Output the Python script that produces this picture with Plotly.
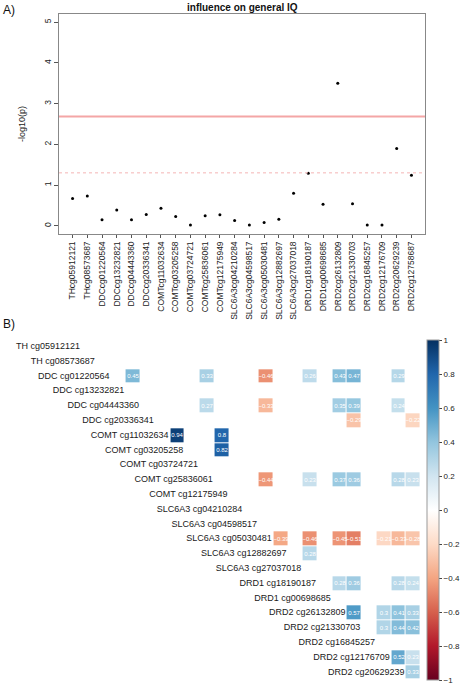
import math
import plotly.graph_objects as go

# ---------------- data ----------------
probe_labels = ["THcg05912121", "THcg08573687", "DDCcg01220564", "DDCcg13232821",
                "DDCcg04443360", "DDCcg20336341", "COMTcg11032634", "COMTcg03205258",
                "COMTcg03724721", "COMTcg25836061", "COMTcg12175949", "SLC6A3cg04210284",
                "SLC6A3cg04598517", "SLC6A3cg05030481", "SLC6A3cg12882697", "SLC6A3cg27037018",
                "DRD1cg18190187", "DRD1cg00698685", "DRD2cg26132809", "DRD2cg21330703",
                "DRD2cg16845257", "DRD2cg12176709", "DRD2cg20629239", "DRD2cg12758687"]
neg_log10_p = [0.67, 0.73, 0.15, 0.39, 0.15, 0.28, 0.43, 0.23, 0.02, 0.25, 0.27, 0.13,
               0.02, 0.08, 0.16, 0.80, 1.29, 0.53, 3.50, 0.54, 0.02, 0.02, 1.90, 1.24]
nominal_threshold = -math.log10(0.05)
bonferroni_threshold = -math.log10(0.05 / 24)

row_labels = ["TH cg05912121", "TH cg08573687", "DDC cg01220564", "DDC cg13232821",
              "DDC cg04443360", "DDC cg20336341", "COMT cg11032634", "COMT cg03205258",
              "COMT cg03724721", "COMT cg25836061", "COMT cg12175949", "SLC6A3 cg04210284",
              "SLC6A3 cg04598517", "SLC6A3 cg05030481", "SLC6A3 cg12882697", "SLC6A3 cg27037018",
              "DRD1 cg18190187", "DRD1 cg00698685", "DRD2 cg26132809", "DRD2 cg21330703",
              "DRD2 cg16845257", "DRD2 cg12176709", "DRD2 cg20629239"]
# significant correlations: (row index, column probe index, r)
corr_rows = [2, 2, 2, 2, 2, 2, 2,
             4, 4, 4, 4, 4,
             5, 5,
             6, 6,
             7,
             9, 9, 9, 9, 9, 9,
             13, 13, 13, 13, 13, 13, 13,
             14,
             16, 16, 16, 16,
             18, 18, 18, 18,
             19, 19, 19,
             21, 21,
             22]
corr_cols = [4, 9, 13, 16, 18, 19, 22,
             9, 13, 18, 19, 22,
             19, 23,
             7, 10,
             10,
             13, 16, 18, 19, 22, 23,
             14, 16, 18, 19, 21, 22, 23,
             16,
             18, 19, 22, 23,
             19, 21, 22, 23,
             21, 22, 23,
             22, 23,
             23]
corr_vals = [0.45, 0.33, -0.46, 0.26, 0.43, 0.47, 0.29,
             0.27, -0.33, 0.35, 0.39, 0.24,
             -0.29, -0.22,
             0.94, 0.80,
             0.82,
             -0.44, 0.23, 0.37, 0.36, 0.28, 0.23,
             -0.39, -0.46, -0.45, -0.51, -0.21, -0.33, -0.28,
             0.28,
             0.28, 0.36, 0.28, 0.24,
             0.57, 0.30, 0.41, 0.33,
             0.30, 0.44, 0.42,
             0.52, 0.23,
             0.33]
cbar_ticks = [1, 0.8, 0.6, 0.4, 0.2, 0, -0.2, -0.4, -0.6, -0.8, -1]

# ---------------- figure ----------------
W, H = 464, 685
FONT = "Liberation Sans, Arial, sans-serif"

def py(px):
    return 1 - px / H

fig = go.Figure()

# Panel A
fig.add_trace(go.Scatter(
    x=list(range(1, len(neg_log10_p) + 1)), y=neg_log10_p, mode="markers",
    marker=dict(color="black", size=3), xaxis="x", yaxis="y", showlegend=False,
    hoverinfo="skip"))

# Panel B heatmap
n = len(row_labels)
cols = list(range(1, n + 1))
z = [[None] * n for _ in range(n)]
txt = [[""] * n for _ in range(n)]
for r, c, v in zip(corr_rows, corr_cols, corr_vals):
    z[r][c - 1] = v
    s = ("%.2f" % v).rstrip("0").rstrip(".")
    txt[r][c - 1] = s.replace("-", "\u2212")

rdbu = ["#67001F", "#B2182B", "#D6604D", "#F4A582", "#FDDBC7", "#FFFFFF",
        "#D1E5F0", "#92C5DE", "#4393C3", "#2166AC", "#053061"]
cscale = [[i / 10, c] for i, c in enumerate(rdbu)]

fig.add_trace(go.Heatmap(
    x=cols, y=list(range(n)), z=z, text=txt, texttemplate="%{text}",
    textfont=dict(size=6, color="white", family=FONT),
    colorscale=cscale, zmin=-1, zmax=1, xgap=1, ygap=1,
    xaxis="x2", yaxis="y2", hoverinfo="skip",
    colorbar=dict(
        x=427 / W, xanchor="left", thickness=12,
        lenmode="pixels", len=340, y=py(510), yanchor="middle",
        xpad=0, ypad=0, outlinecolor="#999999", outlinewidth=1,
        tickvals=cbar_ticks,
        ticktext=[("%g" % t).replace("-", "\u2212") for t in cbar_ticks],
        ticks="outside", ticklen=3, tickcolor="#444",
        tickfont=dict(size=8, family=FONT, color="#222"))))

fig.add_trace(go.Scatter(
    x=[i + 0.4 for i in range(n)], y=list(range(n)), mode="text",
    text=row_labels, textposition="middle left",
    textfont=dict(size=9, family=FONT, color="#1a1a1a"),
    xaxis="x2", yaxis="y2", showlegend=False, hoverinfo="skip", cliponaxis=False))

fig.update_layout(
    width=W, height=H, margin=dict(l=0, r=0, t=0, b=0, autoexpand=False),
    paper_bgcolor="white", plot_bgcolor="white",
    font=dict(family=FONT, color="#222"),
    xaxis=dict(domain=[59 / W, 425 / W], range=[0.08, 24.92], automargin=False,
               tickvals=list(range(1, 25)), ticktext=probe_labels, tickangle=-90,
               tickfont=dict(size=8.5, family=FONT, color="#222"),
               ticks="outside", ticklen=3, tickcolor="#555",
               showgrid=False, zeroline=False, showline=True, linecolor="#888",
               mirror=True, linewidth=1),
    yaxis=dict(domain=[py(234), py(14)], range=[-0.2, 5.2], automargin=False,
               tickvals=[0, 1, 2, 3, 4, 5], tickangle=-90,
               tickfont=dict(size=8.5, family=FONT, color="#222"),
               ticks="outside", ticklen=4, tickcolor="#555",
               showgrid=False, zeroline=False, showline=True, linecolor="#888",
               mirror=True, linewidth=1,
               title=dict(text="-log10(p)", font=dict(size=9, family=FONT))),
    xaxis2=dict(domain=[0, 420.8 / W], range=[-5.03, n + 0.5], visible=False,
                showgrid=False, zeroline=False, automargin=False),
    yaxis2=dict(domain=[py(679.7), py(339.3)], range=[n - 0.5, -0.5], visible=False,
                showgrid=False, zeroline=False, automargin=False),
    shapes=[
        dict(type="line", xref="x domain", yref="y", x0=0, x1=1,
             y0=bonferroni_threshold, y1=bonferroni_threshold,
             line=dict(color="#F4A6A6", width=2)),
        dict(type="line", xref="x domain", yref="y", x0=0, x1=1,
             y0=nominal_threshold, y1=nominal_threshold,
             line=dict(color="#F4B4B4", width=1, dash="dot")),
    ],
    annotations=[
        dict(text="<b>influence on general IQ</b>", xref="paper", yref="paper",
             x=242 / W, y=py(15), xanchor="center", yanchor="bottom", showarrow=False,
             font=dict(size=10, family=FONT, color="#111")),
        dict(text="A)", xref="paper", yref="paper", x=0.002, y=py(1), xanchor="left",
             yanchor="top", showarrow=False, font=dict(size=12, family=FONT, color="#111")),
        dict(text="B)", xref="paper", yref="paper", x=0.002, y=py(315), xanchor="left",
             yanchor="top", showarrow=False, font=dict(size=12, family=FONT, color="#111")),
    ],
)

fig.write_html("out.html", config={"displayModeBar": False},
               post_script="document.body.style.margin='0px';")
